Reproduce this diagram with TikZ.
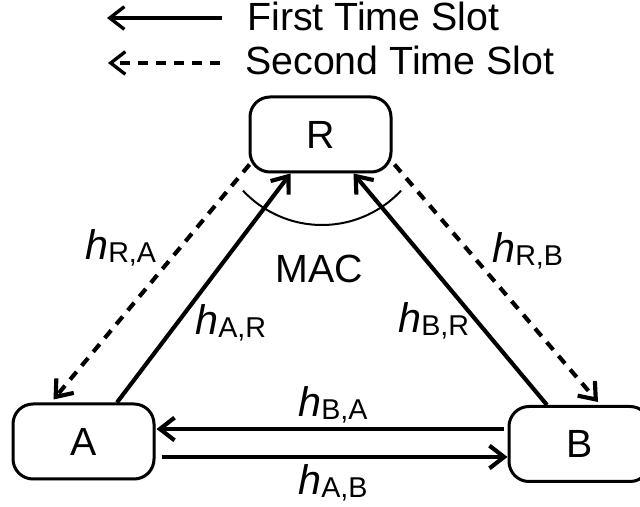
\documentclass[tikz,border=0pt]{standalone}
\usepackage{fontspec}
\setmainfont{Liberation Sans}
\usetikzlibrary{arrows.meta,calc,shadows}

% channel coefficient: italic h with a small, slightly lowered index
\newcommand{\chan}[1]{{\fontsize{31}{31}\selectfont\itshape h}\raisebox{-2pt}{\fontsize{21.5}{22}\selectfont #1}}

\begin{document}
\begin{tikzpicture}[x=0.75pt,y=0.75pt,
  terminal/.style={draw, line width=2.25pt, rounded corners=15pt, fill=white,
    minimum width=105.75pt, minimum height=56.25pt, inner sep=0pt,
    font=\fontsize{29.5}{30}\selectfont,
    drop shadow={shadow xshift=1.2pt, shadow yshift=-1.2pt, opacity=0.18}},
  tip/.style={-{Straight Barb[length=11pt,width=17pt]}},
  link/.style={tip, line width=3.1pt},
  slottwo/.style={link, dash pattern=on 7.5pt off 6pt},
  legline/.style={tip, line width=2.5pt},
  legdash/.style={legline, dash pattern=on 7.5pt off 6pt},
  chanlabel/.style={anchor=base west, inner sep=0pt},
  bigtext/.style={anchor=base west, inner sep=0pt, font=\fontsize{29.5}{30}\selectfont}
]
\useasboundingbox (0,0) rectangle (640,507);
\clip (0,0) rectangle (640,507);

% legend
\coordinate (l1s) at (222,489);
\coordinate (l1e) at (107,489);
\coordinate (l2s) at (220,444);
\coordinate (l2e) at (108,444);
\draw[legline] (l1s) -- (l1e);
\draw[legdash] (l2s) -- (l2e);
\node[bigtext] (t1) at (247,476) {First Time Slot};
\node[bigtext] (t2) at (245,432) {Second Time Slot};

% terminals and relay
\node[terminal] (R) at (320.5,372.5) {R};
\node[terminal] (A) at (83.5,65.5) {A};
\node[terminal] (B) at (579.5,63) {B};

% first time slot: multiple access towards the relay
\draw[link] ($(A.north)+(33.5,0)$) -- ($(R.south)+(-30,0)$);
\draw[link] ($(B.north)+(-32.5,0)$) -- ($(R.south)+(33,0)$);
\draw[link] ($(B.west)+(-4,15)$) -- ($(A.east)+(1,12.5)$);
\draw[link] ($(A.east)+(6,-15.5)$) -- ($(B.west)+(0,-13)$);

% second time slot: relay broadcast
\draw[slottwo] ($(R.south west)+(1,9)$) -- ($(A.north)+(-30,3)$);
\draw[slottwo] ($(R.south east)+(2,9)$) -- ($(B.north)+(18.5,3)$);

% multiple access arc
\coordinate (mac) at (322,390);
\draw[line width=1.5pt] (mac) ++(223:108) arc[start angle=223, end angle=317, radius=108];
\node[bigtext] (MAC) at (275,224) {MAC};

% channel labels
\node[chanlabel] (hRA) at (85,247) {\chan{R,A}};
\node[chanlabel] (hAR) at (195,172) {\chan{A,R}};
\node[chanlabel] (hRB) at (492,244) {\chan{R,B}};
\node[chanlabel] (hBR) at (398,174) {\chan{B,R}};
\node[chanlabel] (hBA) at (298,90) {\chan{B,A}};
\node[chanlabel] (hAB) at (298,12) {\chan{A,B}};
\end{tikzpicture}
\end{document}
